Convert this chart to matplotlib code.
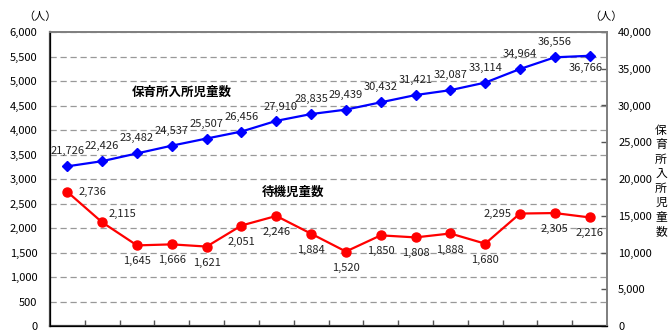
import numpy as np
import matplotlib.pyplot as plt
from matplotlib.ticker import FuncFormatter

plt.rcParams['font.family'] = ['Noto Sans CJK JP', 'DejaVu Sans']

# 待機児童数 (left axis) / 保育所入所児童数 (right axis)
waiting = [2736, 2115, 1645, 1666, 1621, 2051, 2246, 1884,
           1520, 1850, 1808, 1888, 1680, 2295, 2305, 2216]
enrolled = [21726, 22426, 23482, 24537, 25507, 26456, 27910, 28835,
            29439, 30432, 31421, 32087, 33114, 34964, 36556, 36766]
left_ticks = np.arange(0, 6001, 500)
right_ticks = np.arange(0, 40001, 5000)

x = np.arange(len(waiting))

# label offsets in pixels (dx, dy)
red_off = [(0, -16)] * len(waiting)
red_off[0] = (25, 0)
red_off[1] = (20, 8)
red_off[13] = (-22, 0)
blue_off = [(0, 15)] * len(enrolled)
blue_off[6] = (4, 14)
blue_off[15] = (-4, -12)

fig = plt.figure(figsize=(6.68, 3.32), dpi=100)
ax = fig.add_axes([50/668, 1-326/332, 557/668, 294/332])
ax2 = ax.twinx()

ax.set_xlim(-0.5, len(x)-0.5)
ax.set_ylim(0, 6000)
ax2.set_ylim(0, 40000)
ax.set_yticks(left_ticks)
ax2.set_yticks(right_ticks)
fmt = FuncFormatter(lambda v, p: f'{int(v):,}')
ax.yaxis.set_major_formatter(fmt)
ax2.yaxis.set_major_formatter(fmt)

ax.set_xticks(np.arange(0.5, len(x)-1, 1))
ax.set_xticklabels([])
ax.tick_params(axis='x', direction='in', length=4, width=1, color='#555555')
ax.tick_params(axis='y', length=0, pad=9, labelsize=8)
ax2.tick_params(axis='y', direction='in', length=4, width=1, color='#555555', pad=8, labelsize=8)

ax.grid(axis='y', color='#999999', linestyle=(0, (5, 3)), linewidth=0.9)
ax.set_axisbelow(True)

for s in ['left', 'bottom']:
    ax.spines[s].set_color('#404040')
    ax.spines[s].set_linewidth(1.6)
for a in [ax, ax2]:
    a.spines['top'].set_color('#808080')
    a.spines['right'].set_color('#808080')
    a.spines['top'].set_linewidth(1.3)
    a.spines['right'].set_linewidth(1.3)

ax.plot(x, waiting, color='#ff0000', marker='o', markersize=6.5, linewidth=1.6, zorder=3)
ax2.plot(x, enrolled, color='#0000ff', marker='D', markersize=5, linewidth=1.6, zorder=3)

for i, v in enumerate(waiting):
    ax.annotate(f'{v:,}', (x[i], v), xytext=red_off[i], textcoords='offset pixels',
                ha='center', va='center', fontsize=8, color='#222222')
for i, v in enumerate(enrolled):
    ax2.annotate(f'{v:,}', (x[i], v), xytext=blue_off[i], textcoords='offset pixels',
                 ha='center', va='center', fontsize=8, color='#222222')

fig.text(182/668, 1-92/332, '保育所入所児童数', fontsize=9, fontweight='bold',
         ha='center', va='center')
fig.text(293/668, 1-192/332, '待機児童数', fontsize=9, fontweight='bold',
         ha='center', va='center')
fig.text(40/668, 1-17/332, '（人）', fontsize=8, ha='center', va='center')
fig.text(606/668, 1-17/332, '（人）', fontsize=8, ha='center', va='center')
fig.text(661/668, 1-181/332, '\n'.join('保育所入所児童数'), fontsize=8.5,
         ha='center', va='center', linespacing=1.15)

fig.savefig('out.png', dpi=100)
